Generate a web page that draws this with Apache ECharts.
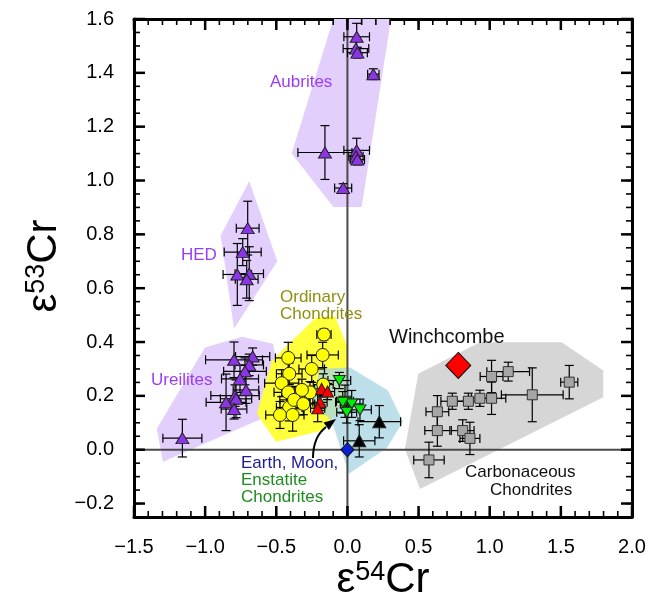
<!DOCTYPE html>
<html><head><meta charset="utf-8">
<script src="https://cdn.jsdelivr.net/npm/echarts@6/dist/echarts.min.js"></script>
<style>html,body{margin:0;padding:0;background:#fff}#c{width:652px;height:598px}</style>
</head><body><div id="c"></div>
<script>
const FONT = '"Liberation Sans", Arial, Helvetica, sans-serif';
const X_MIN = -1.5, X_MAX = 2.0, Y_MIN = -0.25, Y_MAX = 1.6;
const xTickValues = [-1.5, -1.0, -0.5, 0, 0.5, 1.0, 1.5, 2.0];
const yTickValues = [-0.2, 0, 0.2, 0.4, 0.6, 0.8, 1.0, 1.2, 1.4, 1.6];
const X_MINOR_STEP = 0.1, Y_MINOR_STEP = 0.05;

// shaded fields [e54Cr, e53Cr]
const aubritesRegion = [[-0.392,1.100],[-0.099,1.600],[0.306,1.600],[0.100,0.902],[-0.099,0.902]];
const hedRegion = [[-0.690,0.997],[-0.493,0.700],[-0.797,0.449],[-0.891,0.796]];
const ureiliteRegion = [[-1.340,0.078],[-1.001,0.380],[-0.741,0.420],[-0.523,0.394],[-0.439,0.153],[-1.296,-0.045]];
const ordinaryRegion = [[-0.530,0.331],[-0.221,0.491],[-0.087,0.495],[-0.003,0.387],[-0.003,0.182],[-0.179,0.071],[-0.502,0.030],[-0.636,0.134]];
const earthRegion = [[-0.193,0.301],[0.018,0.305],[0.285,0.220],[0.390,0.104],[0.278,0.007],[0.011,-0.089],[-0.109,0.104],[-0.249,0.182]];
const carbonRegion = [[0.498,0.282],[0.932,0.399],[1.506,0.399],[1.798,0.294],[1.798,0.195],[0.510,-0.146],[0.404,0.003]];

// points [e54Cr, e53Cr, err54, err53]
const aubrites = [
  [0.065,1.534,0.09,0.05],[0.06,1.490,0.09,0.03],[0.07,1.475,0.07,0.02],
  [0.182,1.395,0.04,0.02],[-0.158,1.104,0.19,0.10],[0.065,1.112,0.09,0.045],
  [0.06,1.090,0.05,0.02],[0.07,1.078,0.05,0.02],[-0.03,0.972,0.06,0.016]
];
const hed = [
  [-0.701,0.823,0.08,0.10],[-0.736,0.734,0.13,0.05],[-0.774,0.651,0.10,0.115],
  [-0.690,0.654,0.10,0.10],[-0.708,0.633,0.08,0.07]
];
const ureilites = [
  [-1.160,0.043,0.137,0.07],[-0.797,0.334,0.20,0.066],[-0.666,0.346,0.12,0.032],
  [-0.690,0.315,0.10,0.04],[-0.720,0.291,0.15,0.05],[-0.755,0.263,0.13,0.05],
  [-0.713,0.222,0.09,0.05],[-0.790,0.201,0.17,0.04],[-0.783,0.189,0.11,0.07],
  [-0.853,0.176,0.14,0.105],[-0.797,0.151,0.09,0.037]
];
const ordinary = [
  [-0.165,0.428,0.05,0.02],[-0.174,0.352,0.11,0.047],[-0.416,0.341,0.09,0.058],
  [-0.251,0.300,0.09,0.05],[-0.409,0.282,0.09,0.04],[-0.462,0.247,0.12,0.05],
  [-0.416,0.213,0.10,0.05],[-0.345,0.192,0.08,0.04],[-0.263,0.213,0.08,0.04],
  [-0.320,0.222,0.07,0.04],[-0.170,0.242,0.07,0.04],[-0.409,0.157,0.09,0.05],
  [-0.474,0.129,0.10,0.05],[-0.385,0.129,0.08,0.06],[-0.375,0.185,0.10,0.05],
  [-0.310,0.170,0.08,0.04]
];
const redTri = [
  [-0.181,0.226,0.05,0.03],[-0.140,0.216,0.05,0.03],[-0.193,0.176,0.05,0.03],[-0.209,0.154,0.05,0.05]
];
const enstatite = [
  [-0.057,0.257,0.08,0.03],[-0.017,0.180,0.06,0.06],[0.030,0.170,0.08,0.05],
  [-0.005,0.139,0.07,0.04],[0.088,0.148,0.08,0.04],[-0.033,0.176,0.05,0.04]
];
const blackTri = [[0.224,0.104,0.15,0.06],[0.083,0.033,0.11,0.06]];
const earth = [[0.0,0.0]];
const carbonaceous = [
  [0.573,-0.038,0.107,0.066],[0.632,0.071,0.088,0.058],[0.632,0.141,0.08,0.06],
  [0.737,0.180,0.08,0.03],[0.850,0.180,0.08,0.03],[0.810,0.071,0.08,0.04],
  [0.861,0.042,0.07,0.06],[0.931,0.191,0.06,0.03],[1.013,0.191,0.10,0.06],
  [1.013,0.272,0.08,0.06],[1.130,0.290,0.15,0.035],[1.299,0.204,0.217,0.10],
  [1.559,0.251,0.06,0.062]
];
const winchcombe = [[0.779,0.313]];

function fmt(v){ const s = Math.abs(v).toFixed(1); return (v < -1e-9 ? '\u2212' : '') + s; }

function polySeries(pts, color, opacity){
  return {
    type:'custom', z:1, silent:true, clip:true,
    data:[[pts[0][0], pts[0][1]]],
    encode:{x:0,y:1},
    renderItem:function(params, api){
      return {type:'polygon', shape:{points: pts.map(p=>api.coord(p))},
        style:{fill:color, opacity:opacity}};
    }
  };
}
function errSeries(arr){
  return {
    type:'custom', z:3, silent:true,
    data: arr, encode:{x:0,y:1},
    renderItem:function(params, api){
      const x=api.value(0), y=api.value(1), xe=api.value(2), ye=api.value(3);
      const c=api.coord([x,y]), l=api.coord([x-xe,y]), r=api.coord([x+xe,y]);
      const t=api.coord([x,y+ye]), b=api.coord([x,y-ye]);
      const cap=4.5, st={stroke:'#000', lineWidth:1.2};
      return {type:'group', children:[
        {type:'line', shape:{x1:l[0],y1:c[1],x2:r[0],y2:c[1]}, style:st},
        {type:'line', shape:{x1:l[0],y1:c[1]-cap,x2:l[0],y2:c[1]+cap}, style:st},
        {type:'line', shape:{x1:r[0],y1:c[1]-cap,x2:r[0],y2:c[1]+cap}, style:st},
        {type:'line', shape:{x1:c[0],y1:t[1],x2:c[0],y2:b[1]}, style:st},
        {type:'line', shape:{x1:c[0]-cap,y1:t[1],x2:c[0]+cap,y2:t[1]}, style:st},
        {type:'line', shape:{x1:c[0]-cap,y1:b[1],x2:c[0]+cap,y2:b[1]}, style:st}
      ]};
    }
  };
}
function scat(arr, symbol, size, color, border, rot){
  return {type:'scatter', z:4, silent:true, data:arr.map(d=>[d[0],d[1]]),
    symbol:symbol, symbolSize:size, symbolRotate:rot||0,
    itemStyle:{color:color, borderColor:border||'#222', borderWidth:1, opacity:1}};
}

// frame ticks on all four sides, pointing inward, positioned through the axes
const tickSeries = {
  type:'custom', z:6, silent:true, clip:false, data:[[0,0]], encode:{x:0,y:1},
  renderItem:function(params, api){
    const ch = [];
    const maj = {stroke:'#000', lineWidth:2.5}, mn = {stroke:'#000', lineWidth:1.6};
    const addX = function(v, len, st){
      const b = api.coord([v, Y_MIN]), t = api.coord([v, Y_MAX]);
      ch.push({type:'line', shape:{x1:b[0], y1:b[1], x2:b[0], y2:b[1]-len}, style:st});
      ch.push({type:'line', shape:{x1:t[0], y1:t[1], x2:t[0], y2:t[1]+len}, style:st});
    };
    const addY = function(v, len, st){
      const l = api.coord([X_MIN, v]), r = api.coord([X_MAX, v]);
      ch.push({type:'line', shape:{x1:l[0], y1:l[1], x2:l[0]+len, y2:l[1]}, style:st});
      ch.push({type:'line', shape:{x1:r[0], y1:r[1], x2:r[0]-len, y2:r[1]}, style:st});
    };
    const nx = Math.round((X_MAX - X_MIN) / X_MINOR_STEP);
    for (let i = 0; i <= nx; i++) addX(X_MIN + i * X_MINOR_STEP, 6, mn);
    const ny = Math.round((Y_MAX - Y_MIN) / Y_MINOR_STEP);
    for (let i = 0; i <= ny; i++) addY(Y_MIN + i * Y_MINOR_STEP, 6, mn);
    xTickValues.forEach(v => addX(v, 11, maj));
    yTickValues.forEach(v => addY(v, 11, maj));
    return {type:'group', children:ch};
  }
};

const chart = echarts.init(document.getElementById('c'), null, {renderer:'canvas'});
function xAx(pos, labels){
  return {
    type:'value', position:pos, min:X_MIN, max:X_MAX, interval:0.5,
    axisLine:{show:true, onZero:false, lineStyle:{color:'#000', width:3}},
    axisTick:{show:false},
    axisLabel:{show:labels, formatter:fmt, fontSize:20, color:'#000', fontFamily:FONT, margin:20},
    splitLine:{show:false}
  };
}
function yAx(pos, labels){
  return {type:'value', position:pos, min:Y_MIN, max:Y_MAX,
    axisLine:{show:true, onZero:false, lineStyle:{color:'#000', width:3}},
    axisTick:{show:false},
    axisLabel:{show:labels, customValues:yTickValues, formatter:fmt, fontSize:20, color:'#000', fontFamily:FONT, margin:20},
    splitLine:{show:false}};
}
const titleRich = {
  e:{fontSize:42, fontFamily:FONT, fill:'#000', color:'#000'},
  s:{fontSize:27, fontFamily:FONT, fill:'#000', color:'#000', verticalAlign:'top'},
  c:{fontSize:42, fontFamily:FONT, fill:'#000', color:'#000'}
};
function txt(x, y, text, size, color){
  return {type:'text', z:100, x:x, y:y, style:{text:text, font:size+'px '+FONT, fill:color,
    textAlign:'left', textVerticalAlign:'middle', align:'left', verticalAlign:'middle'}};
}

const option = {
  backgroundColor:'#fff',
  animation:false,
  grid:{left:134, right:20, top:19, bottom:81, containLabel:false},
  xAxis:[xAx('bottom', true), xAx('top', false)],
  yAxis:[yAx('left', true), yAx('right', false)],
  series:[
    polySeries(aubritesRegion, '#e2cffc', 1),
    polySeries(hedRegion, '#e2cffc', 1),
    polySeries(ureiliteRegion, '#e2cffc', 1),
    polySeries(carbonRegion, '#d6d6d6', 1),
    polySeries(ordinaryRegion, '#ffff3c', 1),
    polySeries(earthRegion, '#a9d6e3', 0.78),
    {
      type:'custom', z:2, silent:true, data:[[0,0]], encode:{x:0,y:1},
      renderItem:function(params, api){
        const a=api.coord([0,Y_MIN]), b=api.coord([0,Y_MAX]);
        const c=api.coord([X_MIN,0]), d=api.coord([X_MAX,0]);
        const st={stroke:'#4a4a4a', lineWidth:2};
        return {type:'group', children:[
          {type:'line', shape:{x1:a[0],y1:a[1],x2:b[0],y2:b[1]}, style:st},
          {type:'line', shape:{x1:c[0],y1:c[1],x2:d[0],y2:d[1]}, style:st}
        ]};
      }
    },
    tickSeries,
    errSeries(aubrites), scat(aubrites, 'triangle', [13,11], '#8c34e8'),
    errSeries(hed), scat(hed, 'triangle', [13,11], '#8c34e8'),
    errSeries(ureilites), scat(ureilites, 'triangle', [13,11], '#8c34e8'),
    errSeries(ordinary), scat(ordinary, 'circle', 13, '#ffff00'),
    errSeries(redTri), scat(redTri, 'triangle', [12,11], '#ff0000'),
    errSeries(enstatite), scat(enstatite, 'triangle', [12,10], '#00ee00', '#222', 180),
    errSeries(blackTri), scat(blackTri, 'triangle', [13,12], '#000000'),
    scat(earth, 'diamond', [13,14], '#0a1fd6', '#111'),
    errSeries(carbonaceous), scat(carbonaceous, 'rect', 10, '#a6a6a6', '#333'),
    scat(winchcombe, 'diamond', [25,26], '#ff0000', '#111')
  ],
  graphic:[
    txt(270, 82, 'Aubrites', 17, '#9b3cf5'),
    txt(181, 255, 'HED', 17, '#9b3cf5'),
    txt(151, 380, 'Ureilites', 17, '#9b3cf5'),
    txt(280, 297, 'Ordinary', 17, '#8f8f12'),
    txt(280, 314, 'Chondrites', 17, '#8f8f12'),
    txt(389, 337, 'Winchcombe', 20, '#111'),
    txt(465, 472, 'Carbonaceous', 17, '#111'),
    txt(490, 490, 'Chondrites', 17, '#111'),
    txt(241, 463, 'Earth, Moon,', 17, '#1c1c96'),
    txt(241, 480, 'Enstatite', 17, '#1e8c1e'),
    txt(241, 497, 'Chondrites', 17, '#1e8c1e'),
    {type:'bezierCurve', z:100, shape:{x1:313, y1:458, cpx1:313, cpy1:437, x2:326, y2:427}, style:{stroke:'#000', lineWidth:2, fill:null}},
    {type:'polygon', z:100, shape:{points:[[336,419],[329,430],[323.6,422.5]]}, style:{fill:'#000'}},
    {type:'text', z:100, x:383, y:580, style:{
      text:'{e|\u03b5}{s|54}{c|Cr}', textAlign:'center', textVerticalAlign:'middle', align:'center', verticalAlign:'middle',
      rich:titleRich}},
    {type:'text', z:100, x:44, y:266, rotation:Math.PI/2, style:{
      text:'{e|\u03b5}{s|53}{c|Cr}', textAlign:'center', textVerticalAlign:'middle', align:'center', verticalAlign:'middle',
      rich:titleRich}}
  ]
};
chart.setOption(option);
</script></body></html>
